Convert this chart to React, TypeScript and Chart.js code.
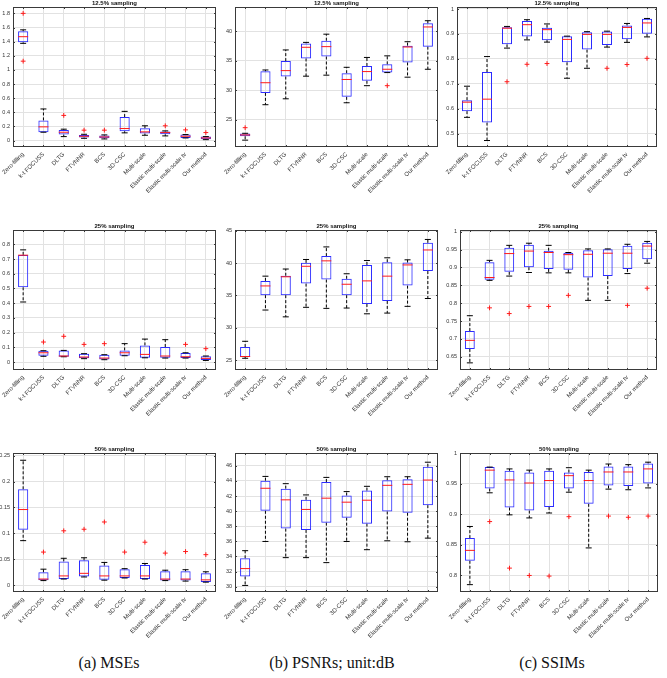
import { useEffect, useRef } from "react";
import { Chart, registerables } from "chart.js";

Chart.register(...registerables);

const methods = [
  "Zero-filling",
  "k-t FOCUSS",
  "DLTG",
  "FTVNNR",
  "BCS",
  "3D-CSC",
  "Multi-scale",
  "Elastic multi-scale",
  "Elastic multi-scale tv",
  "Our method",
];

// Each row: [lower whisker, Q1, median, Q3, upper whisker]
const mse125 = [
  [1.376, 1.39, 1.47, 1.548, 1.567],
  [0.119, 0.119, 0.195, 0.286, 0.448],
  [0.057, 0.086, 0.119, 0.152, 0.162],
  [0.033, 0.043, 0.062, 0.081, 0.09],
  [0.024, 0.033, 0.052, 0.071, 0.081],
  [0.11, 0.133, 0.171, 0.333, 0.414],
  [0.076, 0.1, 0.124, 0.176, 0.21],
  [0.067, 0.09, 0.114, 0.129, 0.138],
  [0.038, 0.038, 0.062, 0.086, 0.086],
  [0.014, 0.019, 0.038, 0.057, 0.057],
];
const mse125Out = [[1.8, 1.124], [], [0.357], [0.148], [0.148], [], [], [0.21], [0.152], [0.114]];

const psnr125 = [
  [21.56, 22.22, 22.44, 22.67, 22.72],
  [27.56, 29.56, 31.28, 33.22, 33.44],
  [28.56, 32.33, 33.33, 34.94, 36.83],
  [32.39, 35.39, 37.28, 37.94, 38.11],
  [32.56, 35.72, 37.39, 38.39, 39.5],
  [27.89, 28.89, 31.83, 32.89, 33.89],
  [30.78, 31.61, 33.17, 34.11, 35.56],
  [33.0, 33.0, 33.56, 34.39, 35.83],
  [32.22, 34.72, 37.33, 37.56, 38.22],
  [33.56, 37.39, 40.72, 41.33, 41.78],
];
const psnr125Out = [[23.67], [], [], [], [], [], [], [30.78], [], []];

const ssim125 = [
  [0.565, 0.59, 0.626, 0.634, 0.69],
  [0.472, 0.544, 0.638, 0.747, 0.809],
  [0.843, 0.858, 0.923, 0.927, 0.93],
  [0.876, 0.89, 0.937, 0.952, 0.957],
  [0.867, 0.875, 0.917, 0.925, 0.94],
  [0.722, 0.786, 0.878, 0.891, 0.891],
  [0.762, 0.837, 0.898, 0.907, 0.909],
  [0.847, 0.855, 0.898, 0.91, 0.911],
  [0.866, 0.879, 0.926, 0.934, 0.942],
  [0.888, 0.901, 0.944, 0.961, 0.962],
];
const ssim125Out = [[], [], [0.708], [0.778], [0.781], [], [], [0.762], [0.777], [0.802]];

const mse25 = [
  [0.408, 0.508, 0.726, 0.728, 0.762],
  [0.039, 0.043, 0.063, 0.077, 0.077],
  [0.036, 0.036, 0.041, 0.079, 0.079],
  [0.023, 0.025, 0.034, 0.057, 0.057],
  [0.016, 0.018, 0.027, 0.05, 0.05],
  [0.043, 0.043, 0.063, 0.079, 0.125],
  [0.029, 0.029, 0.052, 0.113, 0.156],
  [0.027, 0.029, 0.041, 0.102, 0.152],
  [0.027, 0.027, 0.036, 0.061, 0.063],
  [0.011, 0.014, 0.025, 0.039, 0.041],
];
const mse25Out = [[], [0.136], [0.175], [0.12], [0.125], [], [], [], [0.12], [0.091]];

const psnr25 = [
  [25.31, 25.52, 25.58, 27.04, 27.93],
  [32.75, 35.05, 36.47, 37.25, 37.98],
  [31.7, 35.05, 37.88, 38.04, 39.08],
  [33.17, 36.83, 39.5, 40.03, 40.55],
  [33.01, 37.46, 40.34, 41.07, 42.49],
  [33.06, 35.05, 36.73, 37.57, 38.35],
  [32.17, 33.69, 37.25, 39.71, 40.39],
  [32.28, 34.16, 37.98, 40.13, 40.81],
  [33.32, 36.52, 39.71, 40.08, 40.5],
  [34.53, 38.77, 42.02, 43.12, 43.64],
];
const psnr25Out = [[], [], [], [], [], [], [], [], [], []];

const ssim25 = [
  [0.633, 0.672, 0.696, 0.722, 0.765],
  [0.864, 0.866, 0.872, 0.915, 0.92],
  [0.876, 0.888, 0.939, 0.955, 0.962],
  [0.886, 0.901, 0.946, 0.964, 0.968],
  [0.885, 0.896, 0.942, 0.947, 0.962],
  [0.885, 0.894, 0.936, 0.941, 0.942],
  [0.808, 0.872, 0.937, 0.948, 0.952],
  [0.808, 0.876, 0.94, 0.951, 0.952],
  [0.883, 0.896, 0.94, 0.961, 0.965],
  [0.912, 0.923, 0.96, 0.969, 0.973],
];
const ssim25Out = [[], [0.787], [0.771], [0.791], [0.791], [0.822], [], [], [0.794], [0.842]];

const mse50 = [
  [0.086, 0.107, 0.146, 0.185, 0.241],
  [0.009, 0.0098, 0.012, 0.025, 0.031],
  [0.012, 0.012, 0.018, 0.046, 0.052],
  [0.016, 0.017, 0.023, 0.048, 0.053],
  [0.0098, 0.0104, 0.018, 0.038, 0.044],
  [0.014, 0.014, 0.018, 0.031, 0.032],
  [0.012, 0.012, 0.018, 0.039, 0.042],
  [0.009, 0.009, 0.012, 0.027, 0.029],
  [0.008, 0.009, 0.012, 0.027, 0.03],
  [0.006, 0.0065, 0.0104, 0.023, 0.026],
];
const mse50Out = [[], [0.064], [0.105], [0.108], [0.122], [0.064], [0.083], [0.062], [0.065], [0.059]];

const psnr50 = [
  [30.17, 31.36, 32.4, 33.76, 34.77],
  [35.99, 40.05, 43.03, 44.03, 44.6],
  [33.85, 37.69, 41.5, 42.98, 43.64],
  [33.85, 37.52, 40.23, 41.5, 42.15],
  [33.19, 38.48, 41.72, 43.86, 44.47],
  [35.99, 39.14, 41.19, 42.07, 42.59],
  [34.9, 38.35, 41.45, 42.72, 43.29],
  [36.08, 39.97, 43.42, 44.08, 44.56],
  [35.95, 39.79, 43.55, 44.21, 44.56],
  [36.43, 40.8, 44.12, 45.87, 46.48],
];
const psnr50Out = [[], [], [], [], [], [], [], [], [], []];

const ssim50 = [
  [0.785, 0.824, 0.841, 0.861, 0.88],
  [0.935, 0.942, 0.972, 0.977, 0.977],
  [0.899, 0.911, 0.956, 0.971, 0.974],
  [0.894, 0.906, 0.951, 0.968, 0.972],
  [0.902, 0.912, 0.955, 0.971, 0.974],
  [0.936, 0.942, 0.963, 0.968, 0.976],
  [0.845, 0.917, 0.955, 0.969, 0.972],
  [0.941, 0.947, 0.969, 0.978, 0.982],
  [0.94, 0.946, 0.969, 0.978, 0.981],
  [0.943, 0.95, 0.974, 0.983, 0.985],
];
const ssim50Out = [[], [0.888], [0.812], [0.8], [0.799], [0.896], [], [0.897], [0.895], [0.897]];

// y-axis limits: [min, max]
const mse125Range = [-0.09, 1.89];
const psnr125Range = [20.4, 44.1];
const ssim125Range = [0.446, 1.008];
const mse25Range = [-0.054, 0.897];
const psnr25Range = [23.5, 45.1];
const ssim25Range = [0.613, 1.005];
const mse50Range = [-0.013, 0.255];
const psnr50Range = [29.3, 47.7];
const ssim50Range = [0.773, 1.0];

// y-axis tick values
const mse125Ticks = [0, 0.2, 0.4, 0.6, 0.8, 1, 1.2, 1.4, 1.6, 1.8];
const psnr125Ticks = [25, 30, 35, 40];
const ssim125Ticks = [0.5, 0.6, 0.7, 0.8, 0.9, 1];
const mse25Ticks = [0, 0.1, 0.2, 0.3, 0.4, 0.5, 0.6, 0.7, 0.8];
const psnr25Ticks = [25, 30, 35, 40, 45];
const ssim25Ticks = [0.65, 0.7, 0.75, 0.8, 0.85, 0.9, 0.95, 1];
const mse50Ticks = [0, 0.05, 0.1, 0.15, 0.2, 0.25];
const psnr50Ticks = [30, 32, 34, 36, 38, 40, 42, 44, 46];
const ssim50Ticks = [0.8, 0.85, 0.9, 0.95, 1];

const rowTitles = ["12.5% sampling", "25% sampling", "50% sampling"];
const captions = ["(a) MSEs", "(b) PSNRs; unit:dB", "(c) SSIMs"];

type Panel = {
  title: string;
  stats: number[][];
  outliers: number[][];
  range: number[];
  ticks: number[];
  plot: [number, number, number, number]; // left, top, right, bottom
  cell: [number, number, number, number]; // x, y, w, h
};

const colX = [0, 222, 444];
const colW = [222, 222, 223];
const rowY = [0, 220, 440];
const rowH = [220, 220, 210];

const plotRects: [number, number, number, number][][] = [
  [[13, 7, 217, 147], [235, 7, 438, 147], [457, 7, 657, 147]],
  [[13, 230, 218, 370], [235, 230, 439, 370], [460, 230, 657, 370]],
  [[13, 453, 217, 592], [235, 453, 439, 592], [460, 453, 658, 592]],
];

const grid = [
  [
    [mse125, mse125Out, mse125Range, mse125Ticks],
    [psnr125, psnr125Out, psnr125Range, psnr125Ticks],
    [ssim125, ssim125Out, ssim125Range, ssim125Ticks],
  ],
  [
    [mse25, mse25Out, mse25Range, mse25Ticks],
    [psnr25, psnr25Out, psnr25Range, psnr25Ticks],
    [ssim25, ssim25Out, ssim25Range, ssim25Ticks],
  ],
  [
    [mse50, mse50Out, mse50Range, mse50Ticks],
    [psnr50, psnr50Out, psnr50Range, psnr50Ticks],
    [ssim50, ssim50Out, ssim50Range, ssim50Ticks],
  ],
];

const panels: Panel[] = [];
grid.forEach((row, r) =>
  row.forEach((entry, c) => {
    panels.push({
      title: rowTitles[r],
      stats: entry[0] as number[][],
      outliers: entry[1] as number[][],
      range: entry[2] as number[],
      ticks: entry[3] as number[],
      plot: plotRects[r][c],
      cell: [colX[c], rowY[r], colW[c], rowH[r]],
    });
  })
);

const FONT = '"Liberation Sans", Arial, sans-serif';
const BLUE = "#2b2bff";
const RED = "#ff1a1a";
const AXIS = "#3a3a3a";
const GRID = "#e2e2e2";

function fmt(v: number) {
  return String(Number(v.toFixed(4)));
}

function BoxPanel({ panel }: { panel: Panel }) {
  const ref = useRef<HTMLCanvasElement>(null);
  const [L, T, R, B] = panel.plot;
  const [cx, cy, cw, ch] = panel.cell;
  const padL = L - cx;
  const padT = T - cy;
  const padR = cx + cw - R;
  const padB = cy + ch - B;

  useEffect(() => {
    if (!ref.current) return;
    const { stats, outliers, range, ticks, title } = panel;

    const outlierPoints: { x: string; y: number }[] = [];
    outliers.forEach((vals, i) => vals.forEach((v) => outlierPoints.push({ x: methods[i], y: v })));

    const decor = {
      id: "boxDecor",
      beforeDatasetsDraw(chart: any) {
        const { ctx, scales } = chart;
        const x = scales.x;
        const y = scales.y;
        ctx.save();
        ctx.strokeStyle = "#000";
        ctx.lineWidth = 1;
        ctx.setLineDash([3, 2]);
        stats.forEach((s, i) => {
          const px = x.getPixelForValue(i);
          ctx.beginPath();
          ctx.moveTo(px, y.getPixelForValue(s[3]));
          ctx.lineTo(px, y.getPixelForValue(s[4]));
          ctx.moveTo(px, y.getPixelForValue(s[1]));
          ctx.lineTo(px, y.getPixelForValue(s[0]));
          ctx.stroke();
        });
        ctx.restore();
      },
      afterDraw(chart: any) {
        const { ctx, chartArea, scales } = chart;
        const { left, top, right, bottom } = chartArea;
        ctx.save();
        ctx.strokeStyle = AXIS;
        ctx.lineWidth = 1;
        ctx.setLineDash([]);
        ctx.strokeRect(Math.round(left) + 0.5, Math.round(top) + 0.5, Math.round(right - left) - 1, Math.round(bottom - top) - 1);
        // inward tick marks
        ctx.beginPath();
        scales.x.ticks.forEach((_t: any, i: number) => {
          const px = Math.round(scales.x.getPixelForTick(i)) + 0.5;
          ctx.moveTo(px, bottom);
          ctx.lineTo(px, bottom - 2);
          ctx.moveTo(px, top);
          ctx.lineTo(px, top + 2);
        });
        scales.y.ticks.forEach((t: any) => {
          const py = Math.round(scales.y.getPixelForValue(t.value)) + 0.5;
          ctx.moveTo(left, py);
          ctx.lineTo(left + 2, py);
          ctx.moveTo(right, py);
          ctx.lineTo(right - 2, py);
        });
        ctx.stroke();
        ctx.fillStyle = "#111";
        ctx.font = `bold 6px ${FONT}`;
        ctx.textAlign = "center";
        ctx.textBaseline = "middle";
        ctx.fillText(title, (left + right) / 2, top - 4);
        ctx.restore();
      },
    };

    const chart = new Chart(ref.current, {
      type: "bar",
      data: {
        labels: methods,
        datasets: [
          {
            type: "line",
            label: "outliers",
            data: outlierPoints as any,
            showLine: false,
            pointStyle: "cross",
            pointRadius: 2.4,
            pointBorderColor: RED,
            pointBackgroundColor: RED,
            pointBorderWidth: 1,
            order: 0,
          },
          {
            type: "line",
            label: "median",
            data: stats.map((s) => s[2]),
            showLine: false,
            pointStyle: "line",
            pointRadius: 5,
            pointBorderColor: RED,
            pointBorderWidth: 1,
            order: 1,
          },
          {
            type: "line",
            label: "upper",
            data: stats.map((s) => s[4]),
            showLine: false,
            pointStyle: "line",
            pointRadius: 3,
            pointBorderColor: "#000",
            pointBorderWidth: 1,
            order: 2,
          },
          {
            type: "line",
            label: "lower",
            data: stats.map((s) => s[0]),
            showLine: false,
            pointStyle: "line",
            pointRadius: 3,
            pointBorderColor: "#000",
            pointBorderWidth: 1,
            order: 2,
          },
          {
            type: "bar",
            label: "box",
            data: stats.map((s) => [s[1], s[3]]) as any,
            backgroundColor: "rgba(0,0,0,0)",
            borderColor: BLUE,
            borderWidth: 1,
            borderSkipped: false,
            barPercentage: 0.5,
            categoryPercentage: 1,
            order: 3,
          },
        ],
      },
      options: {
        responsive: false,
        animation: false,
        events: [],
        layout: { padding: { top: padT, right: padR, left: 0, bottom: 0 } },
        plugins: {
          legend: { display: false },
          title: { display: false },
          tooltip: { enabled: false },
        },
        scales: {
          x: {
            type: "category",
            offset: true,
            grid: { offset: false, color: GRID, drawTicks: false, lineWidth: 1 },
            border: { display: false },
            ticks: {
              autoSkip: false,
              minRotation: 45,
              maxRotation: 45,
              padding: 4,
              color: "#333",
              font: { family: FONT, size: 6 },
            },
            afterFit: (s: any) => {
              s.height = padB;
              s.paddingLeft = 0;
              s.paddingRight = 0;
            },
          },
          y: {
            type: "linear",
            min: range[0],
            max: range[1],
            bounds: "data",
            grace: 0,
            grid: { color: GRID, drawTicks: false, lineWidth: 1 },
            border: { display: false },
            afterBuildTicks: (s: any) => {
              s.ticks = ticks.map((v) => ({ value: v }));
            },
            ticks: {
              padding: 3,
              color: "#333",
              font: { family: FONT, size: 5.5 },
              callback: (v: any) => fmt(Number(v)),
            },
            afterFit: (s: any) => {
              s.width = padL;
              s.paddingTop = 0;
              s.paddingBottom = 0;
            },
          },
        },
      } as any,
      plugins: [decor],
    });
    return () => chart.destroy();
  }, [panel]);

  return (
    <div style={{ position: "absolute", left: cx, top: cy, width: cw, height: ch }}>
      <canvas ref={ref} width={cw} height={ch} style={{ display: "block" }} />
    </div>
  );
}

export default function App() {
  const captionX = [109, 332, 552];
  return (
    <div
      style={{
        position: "fixed",
        left: 0,
        top: 0,
        width: 667,
        height: 678,
        background: "#fff",
        overflow: "hidden",
      }}
    >
      {panels.map((p, i) => (
        <BoxPanel key={i} panel={p} />
      ))}
      {captions.map((c, i) => (
        <div
          key={c}
          style={{
            position: "absolute",
            left: captionX[i] - 100,
            width: 200,
            top: 653,
            textAlign: "center",
            fontFamily: '"Liberation Serif", "DejaVu Serif", serif',
            fontSize: 16,
            color: "#111",
            lineHeight: "20px",
          }}
        >
          {c}
        </div>
      ))}
    </div>
  );
}
